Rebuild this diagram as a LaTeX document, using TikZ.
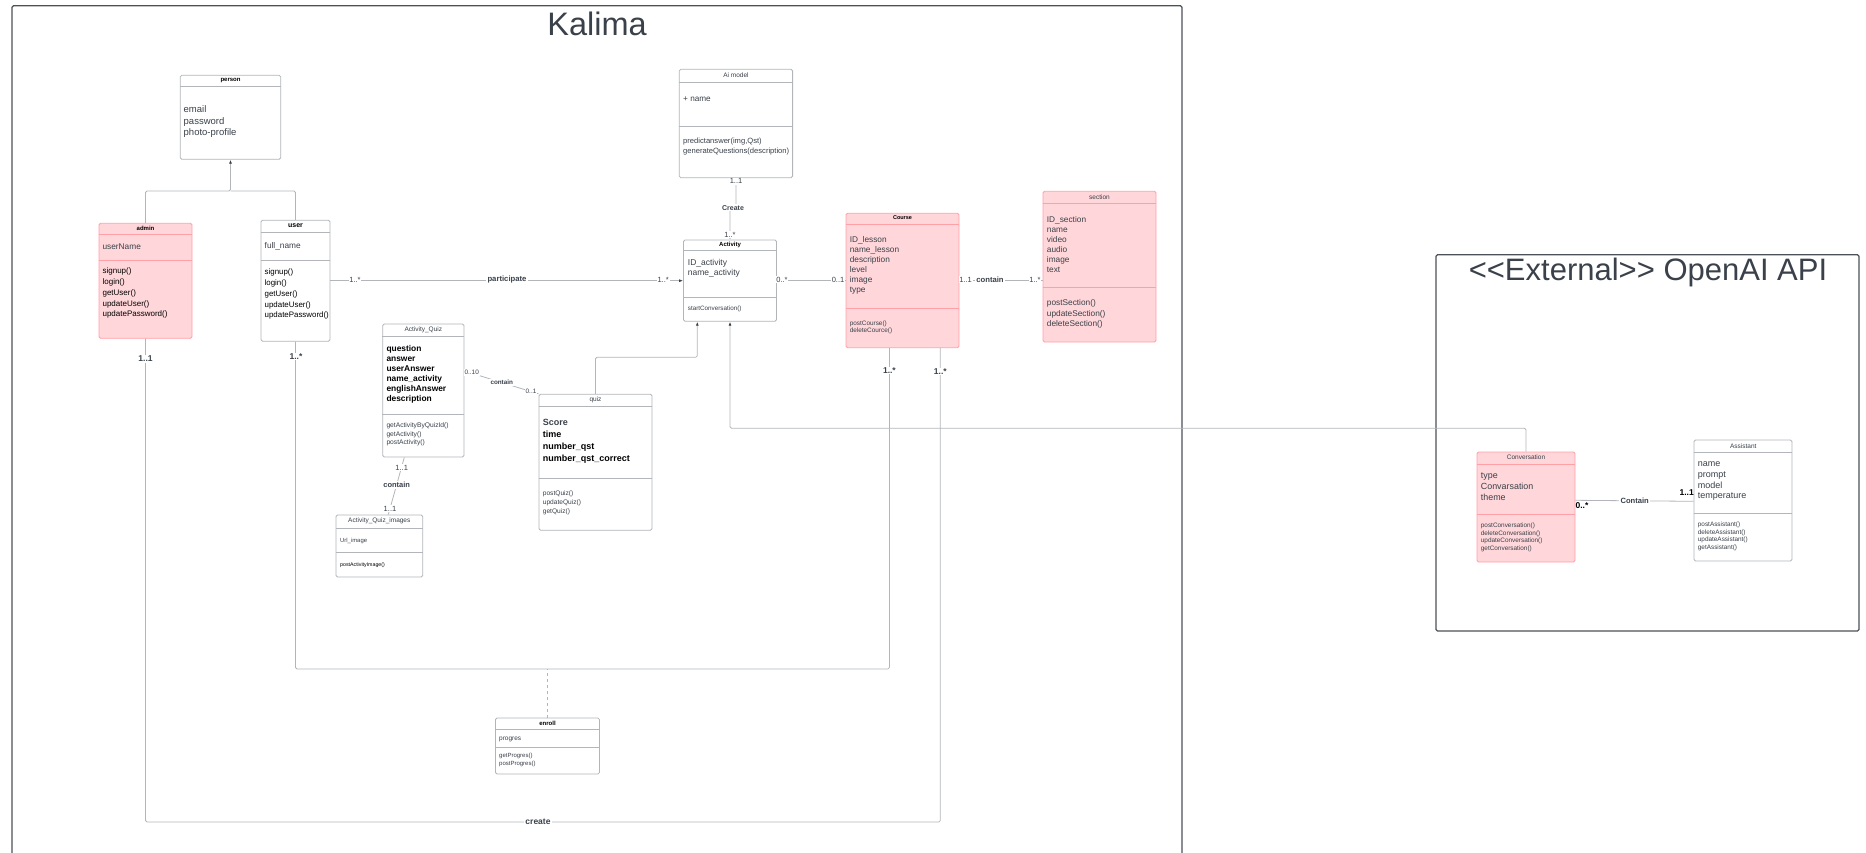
\documentclass[tikz,border=0pt]{standalone}
\usepackage{fontspec}
\setmainfont{Liberation Sans}
\usetikzlibrary{arrows.meta,fit}
\definecolor{inkgrey}{HTML}{3A414A}
\definecolor{edgegrey}{HTML}{B2B5B9}
\definecolor{framegrey}{HTML}{4C5159}
\definecolor{pinkfill}{HTML}{FFD6D9}
\definecolor{pinkedge}{HTML}{FF9FA6}
\tikzstyle{framebox} = [draw=framegrey,line width=1.2pt,rounded corners=1.5pt,inner sep=0pt]
\tikzstyle{classbox} = [draw=edgegrey,line width=0.8pt,fill=white,rounded corners=1.5pt,inner sep=0pt]
\tikzstyle{pinkbox}  = [draw=pinkedge,line width=0.8pt,fill=pinkfill,rounded corners=1.5pt,inner sep=0pt]
\tikzstyle{link}     = [draw=edgegrey,line width=0.8pt,rounded corners=1.5pt]
\tikzstyle{tip}      = [-{Latex[length=4pt,width=3pt,inkgrey]}]
\tikzstyle{words}    = [anchor=north west,inner sep=0pt,align=left,text=inkgrey,execute at begin node=\strut]
\tikzstyle{label}    = [fill=white,inner sep=0.8pt,text=inkgrey]
\tikzset{sized/.style 2 args={font=\fontsize{#1}{#2}\selectfont,yshift={0.7*#2pt-0.38*#1pt}},
  headbold/.style={font=\fontsize{6}{7}\selectfont\bfseries,text=black},
  headthin/.style={font=\fontsize{6.5}{7}\selectfont,text=inkgrey}}

\begin{document}
\begin{tikzpicture}[x=1pt,y=-1pt]
  \useasboundingbox (0,-1) rectangle (1866,852);

  % Frames
  \node[framebox,fit={(12,4.7) (1182,900)}] (kalima) {};
  \node[framebox,fit={(1436,253.7) (1859,630)}] (external) {};
  \node[text=inkgrey,font=\fontsize{32.5}{36}\selectfont] (kalima-title) at (597,23) {Kalima};
  \node[text=inkgrey,font=\fontsize{31}{36}\selectfont] (external-title) at (1648,271) {<{}<External>{}> OpenAI API};

  % Class boxes
  \foreach \nm/\xa/\ya/\xb/\yb/\rows in {
    person/180.3/74.3/280.7/158.3/{85.3},
    user/261/219.3/330/340.3/{231.3,259.3},
    aimodel/679.3/68.3/792.6/176.7/{81.3,125.7},
    activity/683.5/239/776.5/320.3/{249.7,296.3},
    activityquiz/382.7/323/464/456/{335.7,413},
    quiz/539/393.3/652/529.3/{405,477},
    images/336/514/422.7/576/{527,551.7},
    assistant/1694/439/1792/560/{451,512},
    enroll/495.5/717/599.4/773/{728,746}} {
    \node[classbox,fit={(\xa,\ya) (\xb,\yb)}] (\nm) {};
    \foreach \r in \rows \draw[edgegrey,line width=0.8pt] (\nm.west |- 0,\r) -- (\nm.east |- 0,\r);
  }
  \foreach \nm/\xa/\ya/\xb/\yb/\rows in {
    admin/99/222.3/192/337.3/{233.3,259.3},
    course/846/212.3/959/346.7/{223.3,307.3},
    section/1043/190.3/1156/341/{202.3,286.3},
    conversation/1477/451/1575/561/{463,513}} {
    \node[pinkbox,fit={(\xa,\ya) (\xb,\yb)}] (\nm) {};
    \foreach \r in \rows \draw[pinkedge,line width=0.8pt] (\nm.west |- 0,\r) -- (\nm.east |- 0,\r);
  }

  % Connectors
  \coordinate (personjoin) at (230.5,190);
  \coordinate (enrollbar) at (548,668);
  \coordinate (createbar) at (538,821);
  \draw[link,tip] (admin.north) |- (personjoin) -- (person.south);
  \draw[link] (user.north) |- (personjoin);
  \draw[link,tip] (user.east |- 0,279.7) -- (activity.west |- 0,279.7);
  \draw[link] (activity.east |- 0,279.7) -- (course.west |- 0,279.7);
  \draw[link] (course.east |- 0,279.7) -- (section.west |- 0,279.7);
  \draw[link,tip] (aimodel.south) -- (aimodel.south |- 0,206.7) -- (activity.north |- 0,206.7) -- (activity.north);
  \draw[link,tip] (quiz.north) -- (quiz.north |- 0,356.3) -- (697.3,356.3) -- (697.3,0 |- activity.south);
  \draw[link,tip] (conversation.north) -- (conversation.north |- 0,427.3) -- (activity.south |- 0,427.3) -- (activity.south);
  \draw[link] (activityquiz.east |- 0,370) -- (quiz.north west);
  \draw[link] (404.3,0 |- activityquiz.south) -- (388.3,0 |- images.north);
  \draw[link] (conversation.east |- 0,499.3) -- (assistant.west |- 0,500.3);
  \draw[link] (user.south) -- (user.south |- enrollbar) -- (889.4,0 |- enrollbar) -- (889.4,0 |- course.south);
  \draw[link,dashed] (enroll.north) -- (enroll.north |- enrollbar);
  \draw[link] (admin.south) -- (admin.south |- createbar) -- (940.3,0 |- createbar) -- (940.3,0 |- course.south);

  % Titles
  \node[headbold] (person-title) at (230.5,79.5) {person};
  \node[headbold] (admin-title) at (145.5,227) {admin};
  \node[headbold,font=\fontsize{7}{8}\selectfont\bfseries] (user-title) at (295.5,225) {user};
  \node[headthin] (aimodel-title) at (736,74.3) {Ai model};
  \node[headbold] (activity-title) at (730,244) {Activity};
  \node[headbold,font=\fontsize{5.5}{7}\selectfont\bfseries] (course-title) at (902.5,217) {Course};
  \node[headthin] (section-title) at (1099.5,195.7) {section};
  \node[headthin] (activityquiz-title) at (423.3,329) {Activity\_Quiz};
  \node[headthin] (quiz-title) at (595.5,398.7) {quiz};
  \node[headthin] (images-title) at (379.3,520) {Activity\_Quiz\_images};
  \node[headthin] (conversation-title) at (1526,456.3) {Conversation};
  \node[headthin] (assistant-title) at (1743.3,444.7) {Assistant};
  \node[headbold] (enroll-title) at (547.5,722) {enroll};

  % Attributes
  \node[words,sized={9.5}{11.6}] (person-attrs) at (183.5,109) {email\\password\\photo-profile};
  \node[words,sized={8.3}{10}] (admin-attrs) at (102.4,245) {userName};
  \node[words,sized={8.3}{10}] (user-attrs) at (264.5,244.3) {full\_name};
  \node[words,sized={8.2}{10}] (aimodel-attrs) at (683,97) {+ name};
  \node[words,sized={8.5}{10}] (activity-attrs) at (687.7,262) {ID\_activity\\name\_activity};
  \node[words,sized={8.3}{10}] (course-attrs) at (849.6,239.3) {ID\_lesson\\name\_lesson\\description\\level\\image\\type};
  \node[words,sized={8.3}{10}] (section-attrs) at (1046.7,218.7) {ID\_section\\name\\video\\audio\\image\\text};
  \node[words,sized={8.4}{10},text=black,font=\fontsize{8.4}{10}\selectfont\bfseries] (activityquiz-attrs) at (386.3,348.3) {question\\answer\\userAnswer\\name\_activity\\englishAnswer\\description};
  \node[words,sized={9}{11.8},text=black,font=\fontsize{9}{12.1}\selectfont\bfseries] (quiz-attrs) at (542.7,422.5) {{\color{inkgrey}Score}\\time\\number\_qst\\number\_qst\_correct};
  \node[words,sized={5.9}{7}] (images-attrs) at (340,538.7) {Url\_image};
  \node[words,sized={8.9}{10.8}] (conversation-attrs) at (1480.7,476) {type\\Convarsation\\theme};
  \node[words,sized={9}{10.7}] (assistant-attrs) at (1697.7,464.7) {name\\prompt\\model\\temperature};
  \node[words,sized={6.5}{8}] (enroll-attrs) at (499,736.7) {progres};

  % Methods
  \node[words,sized={8}{10.8},text=black] (admin-calls) at (102.4,271.3) {signup()\\login()\\getUser()\\updateUser()\\updatePassword()};
  \node[words,sized={7.9}{10.8},text=black] (user-calls) at (264.5,272.3) {signup()\\login()\\getUser()\\updateUser()\\updatePassword()};
  \node[words,sized={7.6}{9.3}] (aimodel-calls) at (683,140.7) {predictanswer(img,Qst)\\generateQuestions(description)};
  \node[words,sized={6.3}{8}] (activity-calls) at (687.7,307.3) {startConversation()};
  \node[words,sized={6.4}{7.7}] (course-calls) at (849.6,322.3) {postCourse()\\deleteCource()};
  \node[words,sized={8.3}{10.2}] (section-calls) at (1046.7,302.7) {postSection()\\updateSection()\\deleteSection()};
  \node[words,sized={6.7}{8.6}] (activityquiz-calls) at (386.3,425) {getActivityByQuizId()\\getActivity()\\postActivity()};
  \node[words,sized={6.6}{9}] (quiz-calls) at (542.7,493.7) {postQuiz()\\updateQuiz()\\getQuiz()};
  \node[words,sized={5.25}{7},text=black] (images-calls) at (340,563.3) {postActivityImage()};
  \node[words,sized={6.4}{7.7}] (conversation-calls) at (1480.7,524.7) {postConversation()\\deleteConversation()\\updateConversation()\\getConversation()};
  \node[words,sized={6.4}{7.7}] (assistant-calls) at (1697.7,523.7) {postAssistant()\\deleteAssistant()\\updateAssistant()\\getAssistant()};
  \node[words,sized={6}{7.7}] (enroll-calls) at (499,755) {getProgres()\\postProgres()};

  % Multiplicities
  \foreach \nm/\x/\y/\t in {m1/355/278.7/1..*,m2/663.2/278.7/1..*,m3/782/278.7/0..*,m4/838/278.7/0..1,
    m5/965.6/278.7/1..1,m6/1035/278.7/1..*,m7/736/180.3/1..1,m8/730/233.7/1..*,
    m9/401.7/466.7/1..1,m10/390/507.7/1..1}
    \node[label,font=\fontsize{7.5}{9}\selectfont] (\nm) at (\x,\y) {\t};
  \foreach \nm/\x/\y/\t in {m11/471.7/371.5/0..10,m12/531/390.7/0..1}
    \node[label,font=\fontsize{6.4}{8}\selectfont] (\nm) at (\x,\y) {\t};
  \foreach \nm/\x/\y/\t in {m13/145.5/358/1..1,m14/296/355.7/1..*,m15/889.4/369.3/1..*,m16/940.3/370.3/1..*}
    \node[label,font=\fontsize{8.5}{10}\selectfont\bfseries] (\nm) at (\x,\y) {\t};
  \foreach \nm/\x/\y/\t in {m17/1582/505/0..*,m18/1686.7/492/1..1}
    \node[label,fill=none,text=black,font=\fontsize{8.5}{10}\selectfont\bfseries] (\nm) at (\x,\y) {\t};

  % Association names
  \foreach \nm/\x/\y/\s/\t in {l1/507/278.7/7.7/participate,l2/990/278.7/7.7/contain,l3/733/206.7/7/Create,
    l4/501.7/381.3/6.3/contain,l5/396.7/484/7.5/contain,l6/1634.7/499.5/7.6/Contain,l7/538/821/8.5/create}
    \node[label,inner sep=1.2pt,font=\fontsize{\s}{9}\selectfont\bfseries] (\nm) at (\x,\y) {\t};
\end{tikzpicture}
\end{document}
